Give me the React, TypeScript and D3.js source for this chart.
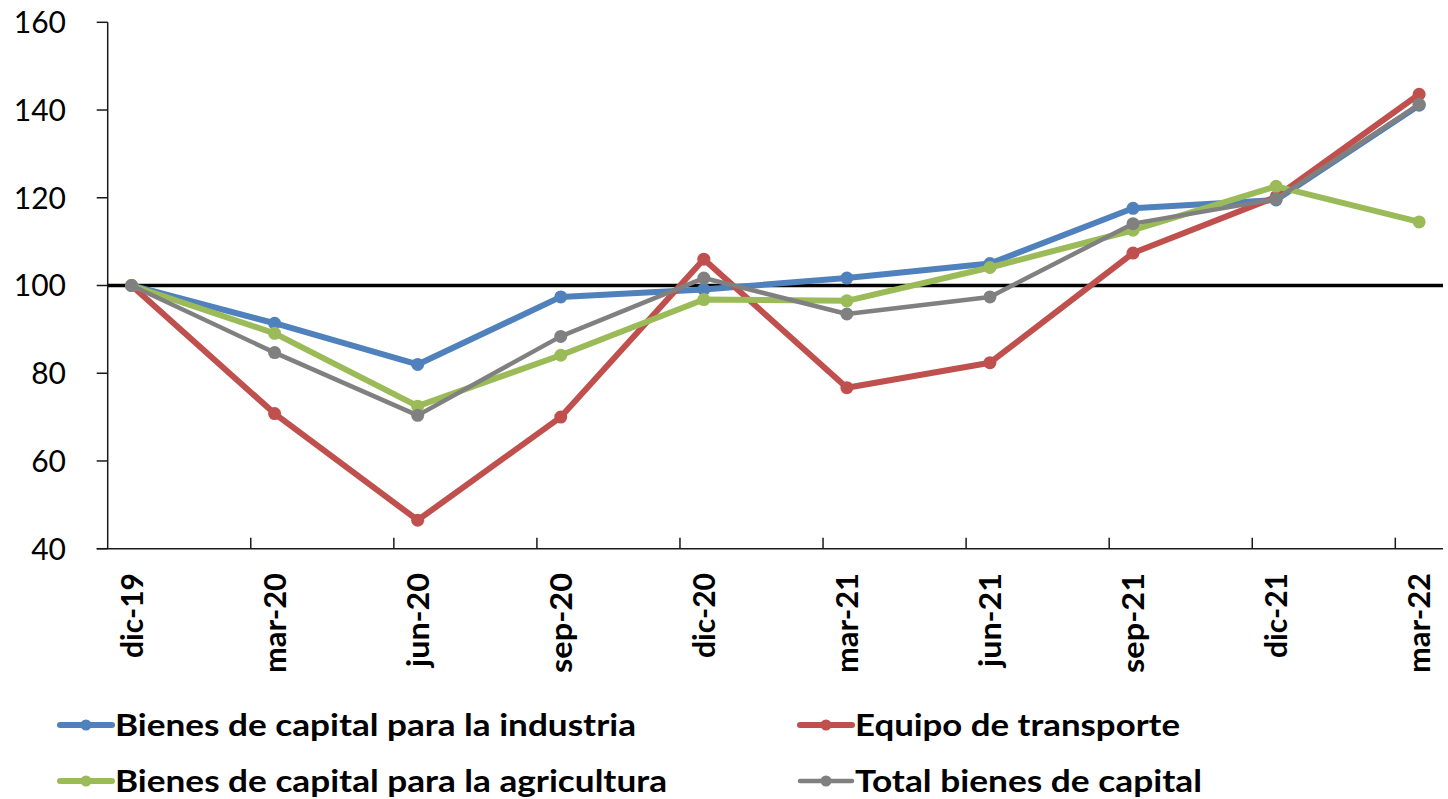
import React from "react";
import * as d3 from "d3";

const categories = ["dic-19", "mar-20", "jun-20", "sep-20", "dic-20", "mar-21", "jun-21", "sep-21", "dic-21", "mar-22"];
const industria = [100, 91.4, 82.0, 97.4, 99.1, 101.7, 105.0, 117.6, 119.5, 141.1];
const transporte = [100, 70.8, 46.5, 70.0, 106.0, 76.7, 82.4, 107.4, 120.2, 143.6];
const agricultura = [100, 89.1, 72.5, 84.1, 96.8, 96.5, 104.1, 112.6, 122.6, 114.5];
const total = [100, 84.7, 70.4, 88.4, 101.7, 93.5, 97.4, 114.1, 119.7, 141.3];
const yTicks = [40, 60, 80, 100, 120, 140, 160];

const seriesNames = [
  "Bienes de capital para la industria",
  "Equipo de transporte",
  "Bienes de capital para la agricultura",
  "Total bienes de capital",
];
const seriesColors = ["#4F81BD", "#C0504D", "#9BBB59", "#808080"];
const seriesWidths = [6, 6, 6, 4.5];
const seriesData = [industria, transporte, agricultura, total];

const W = 1448;
const H = 799;
const left = 107.7;
const right = 1443;
const top = 22.3;
const bottom = 548.7;
const monthsSpan = 28; // monthly date axis from dic-19 to mar-22

export default function App() {
  const x = d3.scaleLinear().domain([0, monthsSpan]).range([left, right]);
  const y = d3.scaleLinear().domain([40, 160]).range([bottom, top]);
  const px = (i: number) => x(i * 3 + 0.5);
  const line = d3
    .line<number>()
    .x((_, i) => px(i))
    .y((d) => y(d));

  const font = "Lato, 'Open Sans', sans-serif";
  const legendItems = [
    { idx: 0, x0: 60, y0: 725 },
    { idx: 1, x0: 800, y0: 725 },
    { idx: 2, x0: 60, y0: 781 },
    { idx: 3, x0: 800, y0: 781 },
  ];
  const legendLens = [521, 325, 552, 347];
  const xLabelLens = [85, 100, 94, 100, 85, 100, 94, 100, 85, 100];

  return (
    <div style={{ position: "absolute", left: 0, top: 0 }}>
      <svg width={W} height={H} style={{ display: "block", background: "#fff" }}>
        {/* 100 reference line */}
        <line x1={left} x2={right} y1={y(100)} y2={y(100)} stroke="#000" strokeWidth={3.5} />
        {/* y axis */}
        <line x1={left} x2={left} y1={top} y2={bottom} stroke="#1a1a1a" strokeWidth={1.5} />
        {yTicks.map((t) => (
          <g key={t}>
            <line x1={left - 11} x2={left} y1={y(t)} y2={y(t)} stroke="#1a1a1a" strokeWidth={1.5} />
            <text
              x={66}
              y={y(t)}
              dy="0.36em"
              textAnchor="end"
              fontFamily={font}
              fontSize={30}
              fill="#000"
            >
              {t}
            </text>
          </g>
        ))}
        {/* x axis */}
        <line x1={left - 11} x2={right} y1={bottom} y2={bottom} stroke="#1a1a1a" strokeWidth={1.5} />
        {categories.map((c, i) =>
          i > 0 ? (
            <line
              key={"t" + c}
              x1={x(i * 3)}
              x2={x(i * 3)}
              y1={bottom - 11}
              y2={bottom}
              stroke="#1a1a1a"
              strokeWidth={1.5}
            />
          ) : null
        )}
        {categories.map((c, i) => (
          <text
            key={c}
            transform={`translate(${px(i)},573) rotate(-90)`}
            textAnchor="end"
            dy="0.36em"
            fontFamily={font}
            fontWeight="bold"
            fontSize={31}
            fill="#000"
            textLength={xLabelLens[i]}
            lengthAdjust="spacingAndGlyphs"
          >
            {c}
          </text>
        ))}
        {/* series */}
        {seriesData.map((d, s) => (
          <g key={seriesNames[s]}>
            <path
              d={line(d) || ""}
              fill="none"
              stroke={seriesColors[s]}
              strokeWidth={seriesWidths[s]}
              strokeLinejoin="round"
            />
            {d.map((v, i) => (
              <circle key={i} cx={px(i)} cy={y(v)} r={6.5} fill={seriesColors[s]} />
            ))}
          </g>
        ))}
        {/* legend */}
        {legendItems.map(({ idx, x0, y0 }) => (
          <g key={"lg" + idx}>
            <line
              x1={x0}
              x2={x0 + 52}
              y1={y0}
              y2={y0}
              stroke={seriesColors[idx]}
              strokeWidth={seriesWidths[idx]}
              strokeLinecap="round"
            />
            <circle cx={x0 + 26} cy={y0} r={5.5} fill={seriesColors[idx]} />
            <text
              x={x0 + 55}
              y={y0}
              dy="0.36em"
              fontFamily={font}
              fontWeight="bold"
              fontSize={31}
              fill="#000"
              textLength={legendLens[idx]}
              lengthAdjust="spacingAndGlyphs"
            >
              {seriesNames[idx]}
            </text>
          </g>
        ))}
      </svg>
    </div>
  );
}
